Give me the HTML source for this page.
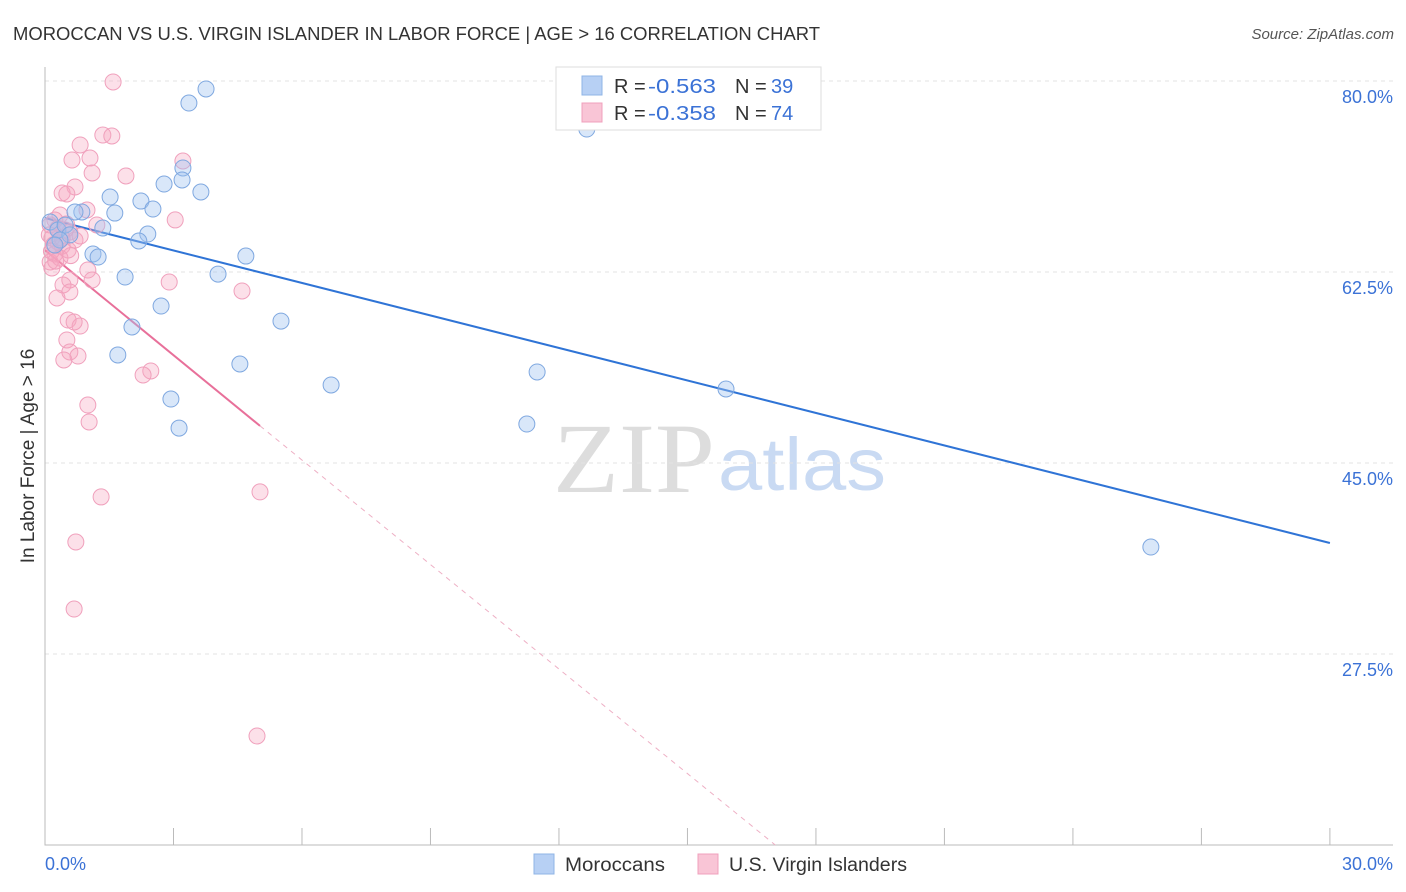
<!DOCTYPE html>
<html><head><meta charset="utf-8"><style>
body{margin:0;background:#fff;font-family:"Liberation Sans",sans-serif}
svg{display:block}
</style></head><body>
<svg id="chart" width="1406" height="892">
<text x="13" y="40" font-size="18" fill="#333" textLength="807" lengthAdjust="spacingAndGlyphs">MOROCCAN VS U.S. VIRGIN ISLANDER IN LABOR FORCE | AGE &gt; 16 CORRELATION CHART</text>
<text x="1394" y="39" font-size="15" fill="#555" font-style="italic" text-anchor="end">Source: ZipAtlas.com</text>
<g>
<text x="553" y="492" font-size="100" fill="#ddd" font-family="Liberation Serif,serif" textLength="162" lengthAdjust="spacingAndGlyphs">ZIP</text>
<text x="718" y="490" font-size="74" fill="#c9daf3" textLength="168" lengthAdjust="spacingAndGlyphs">atlas</text>
</g>
<g id="grid"></g><g id="axes"></g><g id="lines"></g><g id="pts"></g>
<text transform="translate(34,456) rotate(-90)" font-size="19" fill="#333" text-anchor="middle">In Labor Force | Age &gt; 16</text>
<g>
<rect x="556" y="67" width="265" height="63" fill="#fff" stroke="#ddd"/>
<rect x="582" y="76" width="20" height="19" fill="#b7d0f4" stroke="#8fb4e6"/>
<rect x="582" y="103" width="20" height="19" fill="#f9c5d6" stroke="#f0a0bc"/>
<text x="614" y="93" font-size="20" fill="#333">R =</text>
<text x="648" y="93" font-size="20" fill="#3b72d6" textLength="68" lengthAdjust="spacingAndGlyphs">-0.563</text>
<text x="735" y="93" font-size="20" fill="#333">N =</text>
<text x="771" y="93" font-size="20" fill="#3b72d6">39</text>
<text x="614" y="120" font-size="20" fill="#333">R =</text>
<text x="648" y="120" font-size="20" fill="#3b72d6" textLength="68" lengthAdjust="spacingAndGlyphs">-0.358</text>
<text x="735" y="120" font-size="20" fill="#333">N =</text>
<text x="771" y="120" font-size="20" fill="#3b72d6">74</text>
</g>
<g>
<rect x="534" y="854" width="20" height="20" fill="#b7d0f4" stroke="#8fb4e6"/>
<text x="565" y="871" font-size="19" fill="#333" textLength="100" lengthAdjust="spacingAndGlyphs">Moroccans</text>
<rect x="698" y="854" width="20" height="20" fill="#f9c5d6" stroke="#f0a0bc"/>
<text x="729" y="871" font-size="19" fill="#333" textLength="178" lengthAdjust="spacingAndGlyphs">U.S. Virgin Islanders</text>
</g>
</svg>
<script>
const yTicks=[80,62.5,45,27.5];
const yTickLabels=["80.0%","62.5%","45.0%","27.5%"];
const xTicks=[0,3,6,9,12,15,18,21,24,27,30];
const blueX=[3.76,3.36,12.65,3.22,3.2,2.78,1.52,3.64,2.24,2.52,1.63,0.86,1.35,2.4,2.19,1.12,1.24,4.69,1.87,4.04,2.71,5.51,2.03,1.7,4.55,6.68,11.49,15.9,2.94,3.13,11.25,25.82,0.12,0.3,0.47,0.58,0.7,0.35,0.23];
const blueY=[79.27,77.98,75.6,72.03,70.93,70.56,69.37,69.83,69.0,68.27,67.9,68.0,66.53,65.98,65.34,64.15,63.87,63.96,62.04,62.31,59.38,58.0,57.46,54.9,54.07,52.15,53.34,51.78,50.86,48.2,48.57,37.3,67.08,66.35,66.8,65.9,68.0,65.43,64.97];
const pinkX=[1.59,1.35,1.56,0.82,0.63,1.05,3.22,1.89,1.1,0.7,0.4,0.51,0.98,3.04,1.21,0.35,0.23,0.12,0.47,0.58,0.16,0.3,0.4,0.54,0.7,0.82,0.23,0.12,0.16,0.35,1.0,1.1,0.58,0.42,2.9,4.6,0.58,0.28,0.54,0.82,0.68,0.51,0.58,0.77,0.44,2.47,2.29,1.0,1.03,1.31,5.02,0.72,0.68,4.95,0.1,0.2,0.3,0.15,0.4,0.6,0.25,0.5];
const pinkY=[79.91,75.05,74.96,74.14,72.76,72.94,72.67,71.3,71.57,70.29,69.74,69.65,68.18,67.27,66.81,67.72,67.26,66.81,66.35,66.16,65.61,65.25,64.88,64.52,65.43,65.8,64.15,63.42,62.87,63.78,62.68,61.77,61.77,61.31,61.58,60.76,60.67,60.12,58.1,57.55,57.92,56.27,55.17,54.8,54.44,53.43,53.06,50.31,48.76,41.89,42.35,37.76,31.62,19.99,65.9,65.0,66.5,64.4,65.6,64.0,63.5,66.9];
const blueLine=[[0,67.45],[30,37.67]];
const pinkLine=[[0,64.5],[5.02,48.4]];
const pinkDash=[[5.02,48.4],[17.05,10]];
const NS="http://www.w3.org/2000/svg";
const X=v=>45+v*42.83, Y=v=>81+(80-v)*10.914;
function mk(t,a,p){const e=document.createElementNS(NS,t);for(const k in a)e.setAttribute(k,a[k]);p.appendChild(e);return e;}
const grid=document.getElementById('grid'),axes=document.getElementById('axes'),lines=document.getElementById('lines'),pts=document.getElementById('pts');
yTicks.forEach((t,i)=>{
const l=mk('line',{x1:45,x2:1393,y1:Y(t),y2:Y(t),stroke:'#e3e3e3','stroke-dasharray':'4,4'},grid);


const tx=mk('text',{x:1393,y:Y(t)+22,'font-size':18,fill:'#3b72d6','text-anchor':'end'},grid);
tx.textContent=yTickLabels[i];


});
const ax=mk('path',{d:'M45 67V845H1393',fill:'none',stroke:'#bbb'},axes);


xTicks.forEach(t=>{
const l=mk('line',{x1:X(t),x2:X(t),y1:828,y2:845,stroke:'#bbb'},axes);


});
const xl0=mk('text',{x:45,y:870,'font-size':18,fill:'#3b72d6'},axes);xl0.textContent='0.0%';


const xl1=mk('text',{x:1393,y:870,'font-size':18,fill:'#3b72d6','text-anchor':'end'},axes);xl1.textContent='30.0%';


function pl(arr,attrs,name){const e=mk('line',Object.assign({x1:X(arr[0][0]),y1:Y(arr[0][1]),x2:X(arr[1][0]),y2:Y(arr[1][1])},attrs),lines);

}
pinkX.forEach((x,i)=>{const c=mk('circle',{cx:X(x),cy:Y(pinkY[i]),r:8,fill:'rgba(245,165,192,0.35)',stroke:'#f0a0bc','stroke-width':1},pts);

});
blueX.forEach((x,i)=>{const c=mk('circle',{cx:X(x),cy:Y(blueY[i]),r:8,fill:'rgba(160,196,240,0.4)',stroke:'#7fa8e0','stroke-width':1},pts);

});
pl(blueLine,{stroke:'#2f74d6','stroke-width':2},'moroccan-trend-line');
pl(pinkLine,{stroke:'#e8709a','stroke-width':2},'virgin-islander-trend-line');
pl(pinkDash,{stroke:'#eeb0c5','stroke-width':1,'stroke-dasharray':'5,5'},'virgin-islander-trend-extension');
</script>
</body></html>
